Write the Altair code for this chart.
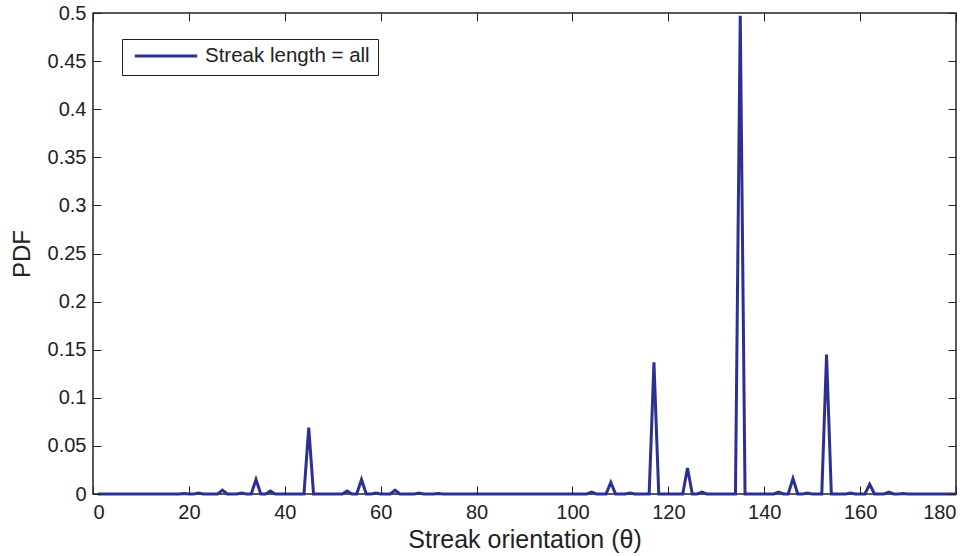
import altair as alt
import pandas as pd

# Orientation bins (degrees) and the probability density in each bin
angles = list(range(1, 181))
peak_angles = [19, 22, 27, 31, 34, 37, 45, 53, 56, 59, 63, 68, 72,
               104, 108, 112, 117, 124, 127, 135, 143, 146, 149, 153,
               158, 162, 166, 169]
peak_values = [0.0005, 0.001, 0.004, 0.001, 0.015, 0.003, 0.069, 0.003, 0.015, 0.001, 0.004, 0.001, 0.0005,
               0.002, 0.012, 0.001, 0.137, 0.027, 0.002, 0.497, 0.002, 0.016, 0.001, 0.145,
               0.001, 0.010, 0.002, 0.0005]
series_name = "Streak length = all"

pdf = [0.0] * len(angles)
for a, v in zip(peak_angles, peak_values):
    pdf[angles.index(a)] = v

df = pd.DataFrame({"theta": angles, "pdf": pdf, "series": series_name})

FONT = "Liberation Sans"
LINE_COLOR = "#2b3093"
INK = "#222222"
x_ticks = list(range(0, 181, 20))
y_ticks = [round(0.05 * i, 2) for i in range(11)]

x_scale = alt.Scale(domain=[0, 180], nice=False, zero=False)
y_scale = alt.Scale(domain=[0, 0.5], nice=False)

# Inward ticks: shift each axis 8px inside the frame and let its ticks run outward to the frame
common_axis = dict(domain=False, grid=False, tickColor=INK, tickSize=8, offset=-8,
                   tickWidth=1, zindex=1, labelFont=FONT, labelFontSize=20, labelColor=INK,
                   titleFont=FONT, titleFontWeight="normal", titleColor=INK)

line = alt.Chart(df).mark_line(strokeWidth=3, strokeJoin="miter").encode(
    x=alt.X("theta:Q", scale=x_scale,
            axis=alt.Axis(values=x_ticks, title="Streak orientation (θ)", labelPadding=8,
                          titlePadding=5, titleFontSize=25, orient="bottom", **common_axis)),
    y=alt.Y("pdf:Q", scale=y_scale,
            axis=alt.Axis(values=y_ticks, format="~g", title="PDF", labelPadding=7,
                          titlePadding=13, titleFontSize=24, orient="left", **common_axis)),
    color=alt.Color("series:N", scale=alt.Scale(range=[LINE_COLOR]),
                    legend=alt.Legend(title=None, orient="none", legendX=29, legendY=26,
                                      symbolType="stroke", symbolSize=3900, symbolStrokeWidth=3,
                                      symbolOffset=3, clipHeight=18, labelLimit=400,
                                      labelFont=FONT, labelFontSize=20.5, labelColor=INK,
                                      strokeColor=INK, padding=8, fillColor="white",
                                      labelOffset=6, cornerRadius=0)),
)

# Transparent copy of the line that carries the mirrored top and right tick marks
mirror_axis = dict(common_axis, labels=False, title=None)
mirror = alt.Chart(df).mark_line(opacity=0).encode(
    x=alt.X("theta:Q", scale=x_scale, axis=alt.Axis(values=x_ticks, orient="top", **mirror_axis)),
    y=alt.Y("pdf:Q", scale=y_scale, axis=alt.Axis(values=y_ticks, orient="right", **mirror_axis)),
)

chart = alt.layer(mirror, line).resolve_axis(x="independent", y="independent").properties(
    width=863, height=481,
    autosize=alt.AutoSizeParams(type="none"),
    padding={"left": 93, "top": 13, "right": 19, "bottom": 62},
    background="white",
).configure_view(stroke=INK, strokeWidth=1.5)

chart.save("out.html", embed_options={"renderer": "svg", "actions": False})
